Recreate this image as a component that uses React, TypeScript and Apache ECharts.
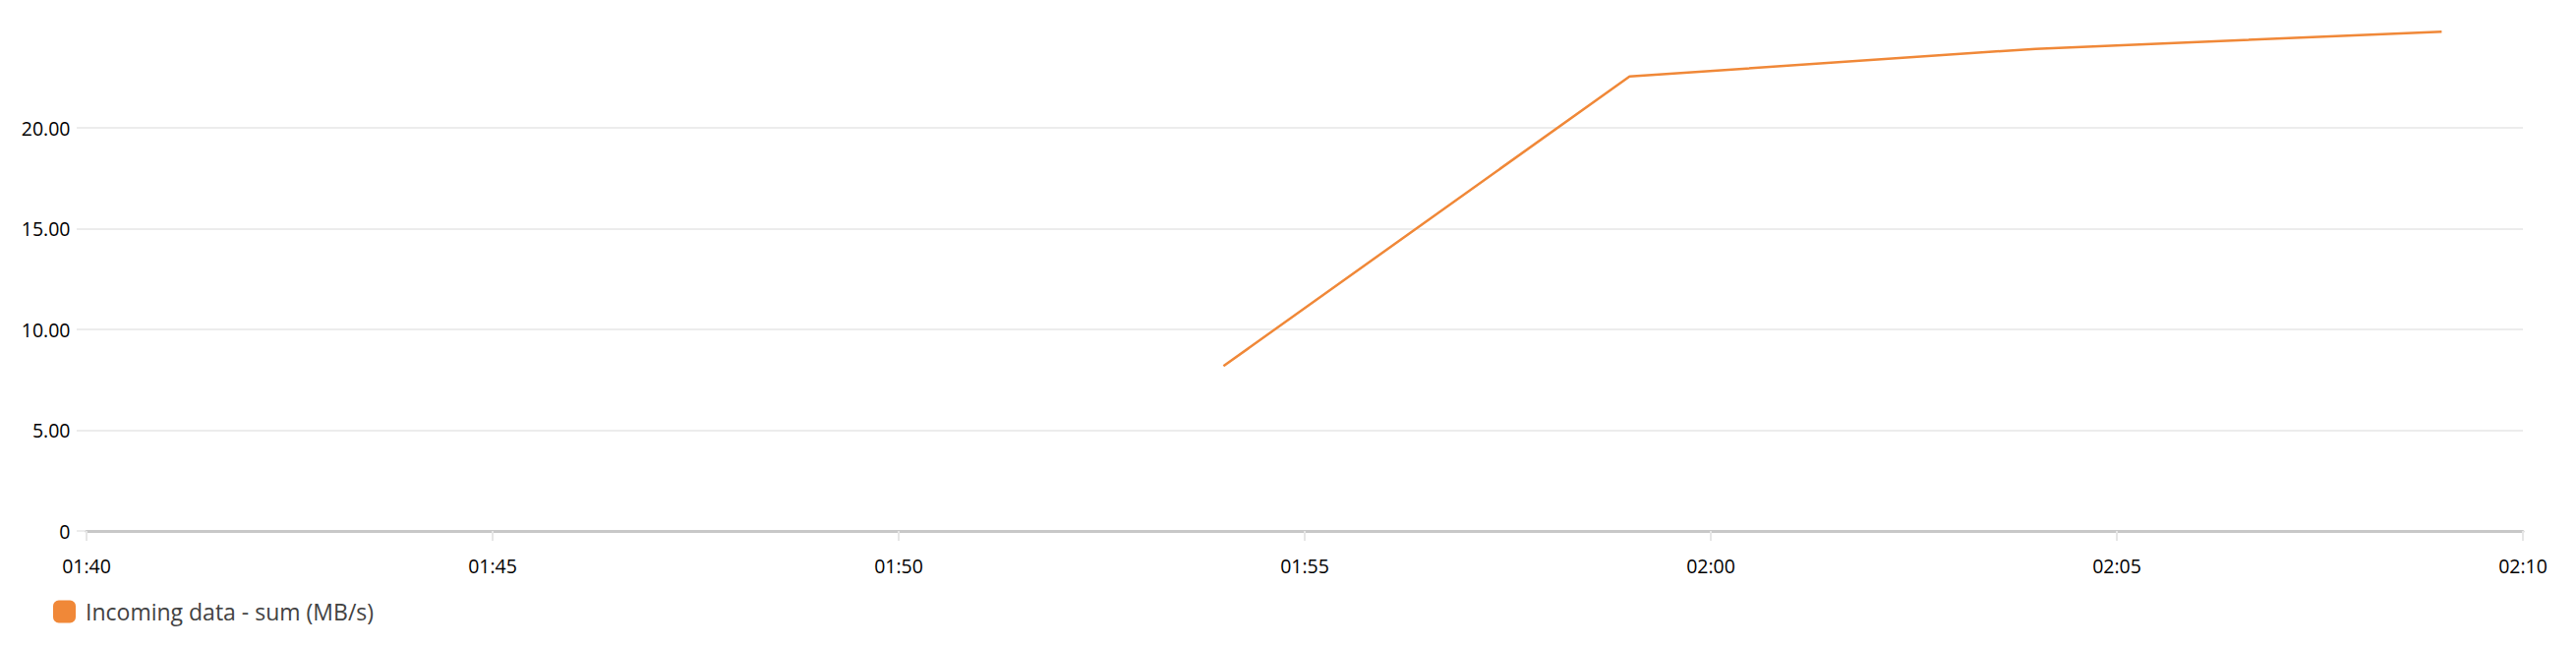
import React, { useEffect, useRef } from "react";
import * as echarts from "echarts";

const times: string[] = ["01:54", "01:59", "02:04", "02:09"];
const incoming: number[] = [8.18, 22.55, 23.92, 24.77];
const seriesName = "Incoming data - sum (MB/s)";
const xStart = "01:40";
const xEnd = "02:10";
const yTicks: number[] = [0, 5, 10, 15, 20];

const toMin = (s: string) => {
  const [h, m] = s.split(":").map(Number);
  return h * 60 + m;
};
const fmtMin = (v: number) => {
  const h = Math.floor(v / 60);
  const m = Math.round(v - h * 60);
  return String(h).padStart(2, "0") + ":" + String(m).padStart(2, "0");
};

const FONT = "'Open Sans', 'Noto Sans', sans-serif";
const COLOR = "#f08838";

export default function App() {
  const ref = useRef<HTMLDivElement>(null);
  useEffect(() => {
    document.body.style.margin = "0";
    if (!ref.current) return;
    const chart = echarts.init(ref.current, undefined, { renderer: "svg" });
    const yMax = 25;
    const yStep = yTicks[1] - yTicks[0];
    chart.setOption({
      animation: false,
      backgroundColor: "#ffffff",
      grid: [
        { left: 78, right: 54, top: 27.5, bottom: 118 },
        { left: 88, right: 54, top: 27.5, bottom: 118 },
      ],
      xAxis: [
        { type: "value", gridIndex: 0, min: 0, max: 1, show: false },
        {
          type: "value",
          gridIndex: 1,
          min: toMin(xStart),
          max: toMin(xEnd),
          interval: 5,
          axisLine: { show: true, lineStyle: { color: "#c8c8c8", width: 3 } },
          axisTick: { show: true, length: 10, lineStyle: { color: "#e6e6e6", width: 2 } },
          axisLabel: {
            margin: 25,
            color: "#000000",
            fontFamily: FONT,
            fontSize: 19.5,
            formatter: (v: number) => fmtMin(v),
          },
          splitLine: { show: false },
        },
      ],
      yAxis: [
        {
          type: "value",
          gridIndex: 0,
          min: 0,
          max: yMax,
          interval: yStep,
          axisLine: { show: false },
          axisTick: { show: false },
          axisLabel: {
            margin: 6.5,
            color: "#000000",
            fontFamily: FONT,
            fontSize: 19.5,
            showMaxLabel: false,
            formatter: (v: number) => (v === 0 ? "0" : v.toFixed(2)),
          },
          splitLine: {
            show: true,
            showMaxLine: false,
            lineStyle: { color: "#ececec", width: 2 },
          },
        },
        {
          type: "value",
          gridIndex: 1,
          min: 0,
          max: yMax,
          interval: yStep,
          show: false,
          splitLine: { show: false },
        },
      ],
      legend: {
        left: 54,
        top: 610.5,
        padding: 0,
        itemWidth: 23,
        itemHeight: 23,
        icon: "roundRect",
        data: [{ name: seriesName, icon: "roundRect", itemStyle: { color: COLOR } }],
        textStyle: {
          fontFamily: FONT,
          fontSize: 23,
          color: "#424242",
          padding: [0, 0, 0, 5],
        },
      },
      series: [
        {
          name: seriesName,
          type: "line",
          xAxisIndex: 1,
          yAxisIndex: 1,
          showSymbol: false,
          color: COLOR,
          lineStyle: { color: COLOR, width: 2.5 },
          data: times.map((t, i) => [toMin(t), incoming[i]]),
        },
      ],
    });
    return () => chart.dispose();
  }, []);
  return <div ref={ref} style={{ width: "2620px", height: "658px" }} />;
}
